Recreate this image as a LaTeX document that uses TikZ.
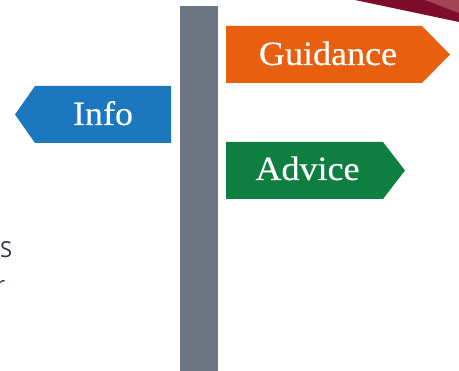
\documentclass[tikz,border=0pt]{standalone}
\usepackage{fontspec}
\setmainfont{Liberation Serif}
\newfontfamily\signfont[FakeStretch=1.06,FakeBold=0.3]{Liberation Serif}
\newfontfamily\sidefont{Open Sans}
\definecolor{maroon}{HTML}{7D0D2B}
\definecolor{maroonlight}{HTML}{A24455}
\definecolor{polegray}{HTML}{6C7682}
\definecolor{signorange}{HTML}{E8600F}
\definecolor{signblue}{HTML}{1B78BE}
\definecolor{signgreen}{HTML}{0E7F40}
\definecolor{sidetext}{HTML}{30324E}
\begin{document}
\begin{tikzpicture}[x=1pt,y=-1pt,
  signtext/.style={text=white,anchor=base,inner sep=0pt,font=\signfont\fontsize{34}{40}\selectfont},
  sidelabel/.style={text=sidetext,anchor=base west,inner sep=0pt,font=\sidefont\fontsize{22}{26}\selectfont}]
\useasboundingbox (0,0) rectangle (459,371);
\clip (0,0) rectangle (459,371);
% top-right band
\fill[maroon] (355,0) -- (459,0) -- (459,22) -- cycle;
\fill[maroonlight] (425,0) -- (459,0) -- (459,13) -- cycle;
% pole
\fill[polegray] (180,6) rectangle (218,371);
% signs
\fill[signorange] (226,26) -- (422,26) -- (450,54.5) -- (422,83) -- (226,83) -- cycle;
\fill[signblue] (171,86) -- (35,86) -- (15,114.5) -- (35,143) -- (171,143) -- cycle;
\fill[signgreen] (226,142) -- (383,142) -- (405,170.5) -- (383,199) -- (226,199) -- cycle;
\node[signtext] (guidance) at (328,65) {Guidance};
\node[signtext] (info) at (103,125) {Info};
\node[signtext] (advice) at (307.5,180) {Advice};
% cropped side text
\node[sidelabel] (sideS) at (0,258) {S};
\node[sidelabel] (sideR) at (-4,293) {r};
\end{tikzpicture}
\end{document}
